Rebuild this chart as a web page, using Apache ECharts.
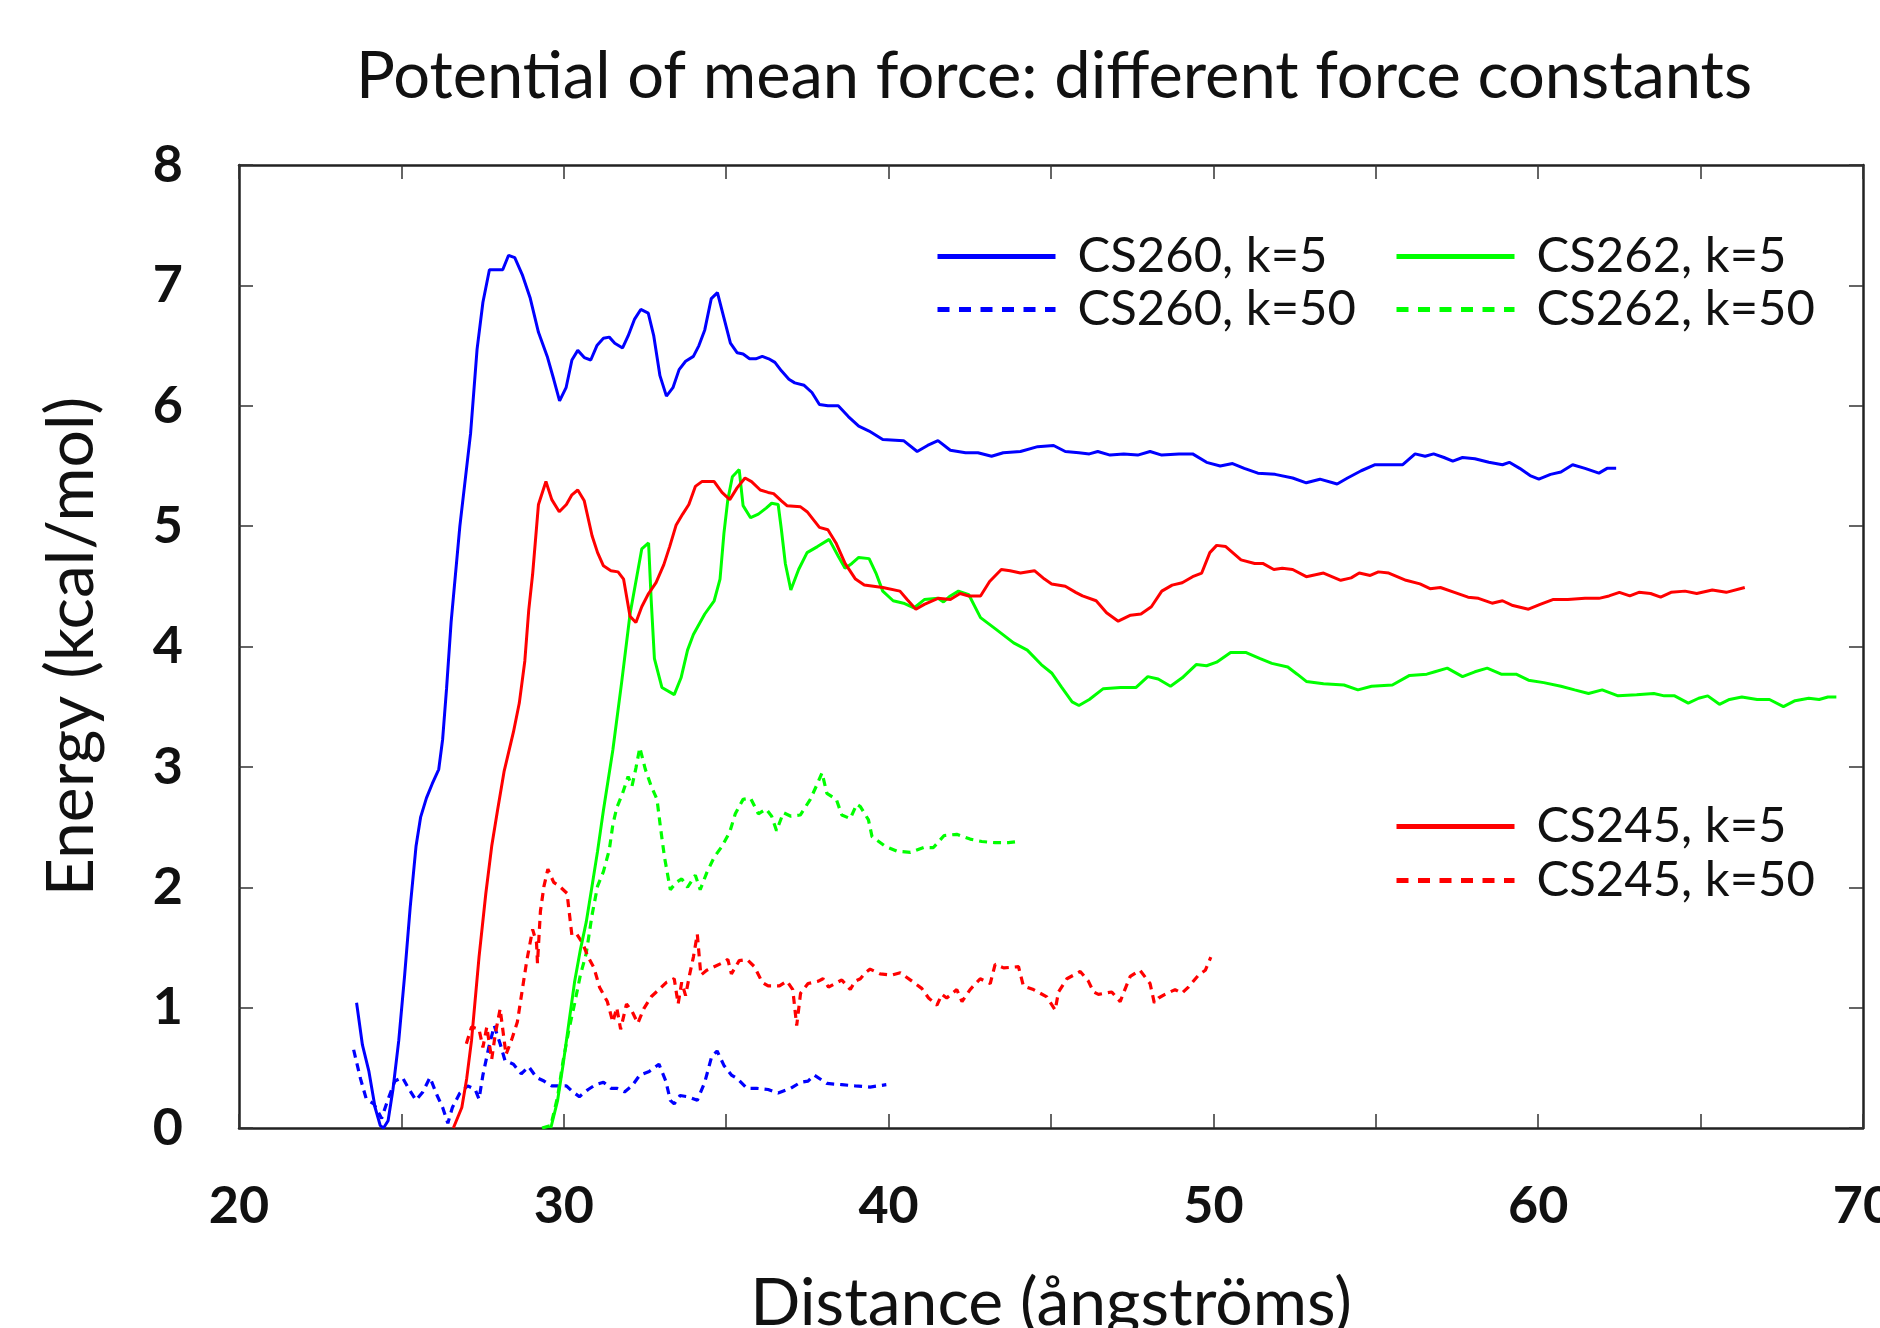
<!DOCTYPE html>
<html>
<head>
<meta charset="utf-8">
<script src="https://cdn.jsdelivr.net/npm/echarts@6/dist/echarts.min.js"></script>
<style>
html,body{margin:0;padding:0;background:#fff;}
#chart{width:1880px;height:1328px;}
</style>
</head>
<body>
<div id="chart"></div>
<script>
const titleText = 'Potential of mean force: different force constants';
const xName = 'Distance (ångströms)';
const yName = 'Energy (kcal/mol)';
const seriesNames = ['CS260, k=5','CS260, k=50','CS262, k=5','CS262, k=50','CS245, k=5','CS245, k=50'];
const xTicks = [20,30,40,50,60,70];
const yTicks = [0,1,2,3,4,5,6,7,8];

const cs260k5 = [[23.62,1.04],[23.80,0.69],[24.0,0.47],[24.19,0.17],[24.35,0.02],[24.45,0.0],[24.59,0.06],[24.74,0.32],[24.92,0.73],[25.1,1.27],[25.27,1.83],[25.45,2.34],[25.59,2.58],[25.77,2.74],[25.95,2.86],[26.15,2.98],[26.27,3.23],[26.39,3.65],[26.53,4.2],[26.8,5.0],[27.13,5.77],[27.33,6.47],[27.51,6.86],[27.71,7.13],[28.12,7.13],[28.3,7.25],[28.49,7.23],[28.72,7.09],[28.96,6.9],[29.22,6.61],[29.49,6.41],[29.69,6.22],[29.87,6.04],[30.07,6.15],[30.25,6.38],[30.43,6.46],[30.63,6.40],[30.83,6.38],[31.02,6.5],[31.22,6.56],[31.4,6.57],[31.57,6.52],[31.81,6.48],[31.98,6.58],[32.18,6.72],[32.37,6.8],[32.6,6.77],[32.77,6.58],[32.96,6.25],[33.16,6.08],[33.36,6.15],[33.55,6.3],[33.75,6.37],[33.99,6.41],[34.16,6.5],[34.34,6.63],[34.54,6.89],[34.73,6.94],[34.93,6.73],[35.13,6.52],[35.34,6.44],[35.52,6.43],[35.72,6.39],[35.91,6.39],[36.11,6.41],[36.31,6.39],[36.5,6.36],[36.7,6.29],[36.93,6.22],[37.11,6.19],[37.4,6.17],[37.64,6.11],[37.87,6.01],[38.13,6.0],[38.45,6.0],[38.76,5.91],[39.08,5.83],[39.4,5.79],[39.82,5.72],[40.46,5.71],[40.88,5.62],[41.2,5.67],[41.52,5.71],[41.9,5.63],[42.37,5.61],[42.75,5.61],[43.17,5.58],[43.53,5.61],[44.06,5.62],[44.59,5.66],[45.08,5.67],[45.44,5.62],[45.86,5.61],[46.18,5.6],[46.44,5.62],[46.82,5.59],[47.24,5.6],[47.67,5.59],[48.05,5.62],[48.41,5.59],[48.94,5.6],[49.36,5.6],[49.79,5.53],[50.21,5.5],[50.59,5.52],[50.95,5.48],[51.37,5.44],[51.9,5.43],[52.44,5.40],[52.86,5.36],[53.28,5.39],[53.81,5.35],[54.13,5.40],[54.55,5.46],[54.98,5.51],[55.83,5.51],[56.21,5.60],[56.52,5.58],[56.78,5.60],[57.1,5.57],[57.37,5.54],[57.67,5.57],[58.05,5.56],[58.48,5.53],[58.9,5.51],[59.11,5.53],[59.43,5.48],[59.75,5.42],[60.02,5.39],[60.38,5.43],[60.7,5.45],[61.06,5.51],[61.44,5.48],[61.87,5.44],[62.12,5.48],[62.4,5.48]];

const cs260k50 = [[23.53,0.65],[23.74,0.41],[23.92,0.24],[24.15,0.2],[24.39,0.08],[24.59,0.24],[24.8,0.39],[25.03,0.42],[25.24,0.32],[25.45,0.23],[25.66,0.30],[25.88,0.42],[26.1,0.27],[26.27,0.17],[26.43,0.04],[26.57,0.17],[26.8,0.29],[27.04,0.35],[27.27,0.32],[27.39,0.24],[27.51,0.44],[27.69,0.67],[27.86,0.85],[28.04,0.70],[28.19,0.56],[28.45,0.53],[28.69,0.45],[28.92,0.51],[29.16,0.42],[29.39,0.39],[29.63,0.35],[29.86,0.35],[30.08,0.35],[30.28,0.30],[30.48,0.26],[30.75,0.32],[30.98,0.36],[31.22,0.38],[31.45,0.33],[31.63,0.33],[31.87,0.30],[32.1,0.35],[32.34,0.44],[32.63,0.47],[32.93,0.53],[33.14,0.39],[33.28,0.23],[33.4,0.20],[33.58,0.27],[33.81,0.26],[34.11,0.23],[34.34,0.38],[34.55,0.59],[34.72,0.64],[34.93,0.52],[35.16,0.44],[35.34,0.41],[35.64,0.33],[35.93,0.33],[36.29,0.32],[36.6,0.29],[36.99,0.33],[37.29,0.38],[37.52,0.39],[37.71,0.44],[38.1,0.37],[38.56,0.36],[38.97,0.35],[39.43,0.34],[39.93,0.36]];

const cs262k5 = [[29.6,0.0],[29.81,0.23],[29.98,0.53],[30.16,0.88],[30.33,1.21],[30.51,1.48],[30.69,1.71],[30.87,2.01],[31.04,2.3],[31.22,2.64],[31.51,3.14],[31.78,3.7],[32.04,4.27],[32.4,4.81],[32.61,4.86],[32.69,4.39],[32.79,3.9],[33.02,3.66],[33.4,3.60],[33.61,3.74],[33.81,3.97],[33.99,4.1],[34.34,4.27],[34.63,4.38],[34.81,4.56],[34.93,4.94],[35.05,5.22],[35.19,5.41],[35.4,5.47],[35.52,5.17],[35.75,5.07],[35.99,5.10],[36.23,5.15],[36.4,5.19],[36.6,5.18],[36.7,4.97],[36.82,4.69],[36.99,4.47],[37.23,4.64],[37.49,4.78],[37.81,4.83],[38.17,4.89],[38.45,4.75],[38.66,4.65],[38.87,4.69],[39.08,4.74],[39.4,4.73],[39.61,4.61],[39.82,4.46],[40.14,4.38],[40.46,4.36],[40.78,4.32],[41.1,4.39],[41.52,4.40],[41.69,4.37],[41.9,4.42],[42.15,4.46],[42.47,4.43],[42.83,4.24],[43.32,4.14],[43.85,4.03],[44.27,3.97],[44.7,3.85],[45.02,3.78],[45.33,3.66],[45.65,3.54],[45.86,3.51],[46.18,3.56],[46.61,3.65],[47.14,3.66],[47.62,3.66],[47.98,3.75],[48.3,3.73],[48.68,3.67],[49.04,3.74],[49.47,3.85],[49.79,3.84],[50.1,3.87],[50.53,3.95],[51.01,3.95],[51.44,3.90],[51.8,3.86],[52.29,3.83],[52.58,3.77],[52.86,3.71],[53.39,3.69],[54.02,3.68],[54.45,3.64],[54.87,3.67],[55.51,3.68],[56.04,3.76],[56.57,3.77],[56.82,3.79],[57.2,3.82],[57.67,3.75],[58.05,3.79],[58.43,3.82],[58.86,3.77],[59.32,3.77],[59.7,3.72],[60.17,3.70],[60.7,3.67],[61.12,3.64],[61.55,3.61],[61.97,3.64],[62.46,3.59],[63.03,3.60],[63.56,3.61],[63.88,3.59],[64.2,3.59],[64.62,3.53],[64.94,3.57],[65.22,3.59],[65.58,3.52],[65.89,3.56],[66.27,3.58],[66.74,3.56],[67.12,3.56],[67.55,3.50],[67.91,3.55],[68.33,3.57],[68.65,3.56],[68.92,3.58],[69.18,3.58]];

const cs262k50 = [[29.33,0.0],[29.6,0.02],[29.81,0.26],[29.98,0.56],[30.16,0.82],[30.33,1.03],[30.51,1.27],[30.69,1.45],[30.87,1.77],[31.04,2.01],[31.22,2.13],[31.4,2.31],[31.51,2.52],[31.63,2.66],[31.81,2.78],[31.98,2.92],[32.1,2.84],[32.22,2.99],[32.34,3.16],[32.51,2.98],[32.69,2.84],[32.87,2.73],[32.98,2.49],[33.1,2.25],[33.28,1.98],[33.46,2.04],[33.63,2.07],[33.81,2.0],[34.05,2.10],[34.2,1.98],[34.4,2.12],[34.63,2.25],[34.87,2.34],[35.11,2.46],[35.28,2.61],[35.52,2.73],[35.75,2.74],[35.99,2.61],[36.23,2.65],[36.4,2.59],[36.55,2.47],[36.76,2.62],[36.99,2.59],[37.28,2.60],[37.59,2.73],[37.79,2.85],[37.95,2.95],[38.1,2.78],[38.39,2.73],[38.56,2.60],[38.82,2.57],[39.02,2.69],[39.13,2.67],[39.38,2.56],[39.49,2.42],[39.9,2.34],[40.26,2.30],[40.67,2.29],[41.08,2.33],[41.38,2.33],[41.71,2.43],[42.1,2.44],[42.51,2.40],[42.87,2.38],[43.28,2.37],[43.69,2.37],[44.0,2.38]];

const cs245k5 = [[26.6,0.0],[26.86,0.17],[27.01,0.41],[27.16,0.73],[27.39,1.42],[27.6,1.95],[27.78,2.34],[27.96,2.64],[28.16,2.96],[28.45,3.29],[28.63,3.53],[28.8,3.88],[28.92,4.30],[29.04,4.6],[29.22,5.18],[29.45,5.37],[29.63,5.22],[29.86,5.12],[30.08,5.18],[30.25,5.26],[30.43,5.30],[30.63,5.21],[30.87,4.92],[31.04,4.78],[31.22,4.67],[31.45,4.63],[31.67,4.62],[31.84,4.56],[32.04,4.25],[32.22,4.20],[32.4,4.33],[32.61,4.44],[32.84,4.53],[33.08,4.68],[33.26,4.83],[33.46,5.01],[33.66,5.10],[33.85,5.18],[34.05,5.33],[34.25,5.37],[34.63,5.37],[34.87,5.28],[35.11,5.22],[35.34,5.32],[35.58,5.40],[35.78,5.37],[36.05,5.30],[36.29,5.28],[36.46,5.27],[36.7,5.21],[36.87,5.17],[37.29,5.16],[37.49,5.12],[37.87,4.99],[38.13,4.97],[38.38,4.86],[38.66,4.69],[38.98,4.56],[39.25,4.51],[39.82,4.49],[40.35,4.46],[40.57,4.39],[40.84,4.31],[41.1,4.35],[41.52,4.40],[41.9,4.39],[42.2,4.44],[42.47,4.42],[42.83,4.42],[43.11,4.54],[43.47,4.64],[43.74,4.63],[44.06,4.61],[44.49,4.63],[44.8,4.56],[45.02,4.52],[45.44,4.50],[45.76,4.45],[45.97,4.42],[46.39,4.38],[46.71,4.28],[47.07,4.21],[47.45,4.26],[47.77,4.27],[48.09,4.33],[48.41,4.46],[48.73,4.51],[49.04,4.53],[49.36,4.58],[49.64,4.61],[49.89,4.78],[50.1,4.84],[50.38,4.83],[50.85,4.72],[51.27,4.69],[51.52,4.69],[51.86,4.64],[52.12,4.65],[52.44,4.64],[52.86,4.58],[53.39,4.61],[53.92,4.55],[54.24,4.57],[54.49,4.61],[54.83,4.59],[55.08,4.62],[55.4,4.61],[55.93,4.55],[56.36,4.52],[56.67,4.48],[56.99,4.49],[57.42,4.45],[57.84,4.41],[58.16,4.40],[58.58,4.36],[58.9,4.38],[59.22,4.34],[59.7,4.31],[60.06,4.35],[60.45,4.39],[60.91,4.39],[61.44,4.40],[61.87,4.40],[62.18,4.42],[62.5,4.45],[62.82,4.42],[63.1,4.45],[63.46,4.44],[63.77,4.41],[64.09,4.45],[64.52,4.46],[64.88,4.44],[65.36,4.47],[65.79,4.45],[66.36,4.49]];

const cs245k50 = [[27.0,0.7],[27.16,0.84],[27.39,0.82],[27.51,0.67],[27.63,0.84],[27.78,0.57],[27.89,0.78],[28.04,0.99],[28.22,0.61],[28.39,0.73],[28.57,0.88],[28.74,1.18],[28.86,1.39],[29.04,1.65],[29.16,1.54],[29.19,1.37],[29.28,1.80],[29.39,2.01],[29.51,2.15],[29.69,2.04],[29.86,2.01],[30.1,1.95],[30.25,1.60],[30.4,1.61],[30.57,1.54],[30.75,1.42],[30.93,1.33],[31.1,1.17],[31.34,1.05],[31.51,0.88],[31.63,1.0],[31.75,0.82],[31.93,1.03],[32.1,0.97],[32.28,0.87],[32.46,0.99],[32.69,1.09],[32.93,1.15],[33.16,1.21],[33.4,1.24],[33.52,1.03],[33.63,1.21],[33.75,1.10],[33.87,1.27],[33.99,1.42],[34.11,1.61],[34.22,1.27],[34.4,1.31],[34.63,1.34],[34.87,1.37],[35.05,1.40],[35.16,1.28],[35.4,1.39],[35.64,1.40],[35.87,1.34],[36.11,1.21],[36.29,1.18],[36.46,1.18],[36.64,1.18],[36.87,1.22],[37.05,1.15],[37.17,0.85],[37.29,1.12],[37.52,1.20],[37.84,1.22],[37.98,1.24],[38.15,1.17],[38.56,1.23],[38.82,1.15],[38.97,1.22],[39.13,1.24],[39.28,1.29],[39.43,1.32],[39.74,1.28],[40.1,1.27],[40.36,1.29],[40.72,1.22],[41.02,1.16],[41.23,1.08],[41.49,1.02],[41.64,1.11],[41.79,1.08],[42.1,1.15],[42.26,1.05],[42.51,1.15],[42.82,1.24],[43.13,1.20],[43.28,1.36],[43.54,1.33],[44.0,1.34],[44.15,1.18],[44.46,1.15],[44.87,1.09],[45.13,0.98],[45.23,1.13],[45.49,1.24],[45.9,1.30],[46.15,1.22],[46.31,1.13],[46.46,1.11],[46.87,1.13],[47.13,1.05],[47.23,1.12],[47.44,1.26],[47.74,1.31],[48.05,1.20],[48.18,1.04],[48.31,1.08],[48.51,1.11],[48.82,1.15],[49.03,1.12],[49.23,1.17],[49.54,1.27],[49.75,1.31],[49.92,1.42]];

const seriesData = [cs260k5, cs260k50, cs262k5, cs262k50, cs245k5, cs245k50];
const seriesColors = ['#0000ff','#0000ff','#00ff00','#00ff00','#ff0000','#ff0000'];
const seriesDashed = [false,true,false,true,false,true];

const FONT = 'Lato';
const chart = echarts.init(document.getElementById('chart'), null, {renderer:'canvas'});

const axisCommon = {
  type:'value',
  axisLine:{show:true, onZero:false, lineStyle:{color:'#222', width:2.5}},
  axisTick:{show:true, inside:true, length:14, lineStyle:{color:'#333', width:1.5}},
  splitLine:{show:false}
};

function legendItem(i){
  return {
    name: seriesNames[i],
    lineStyle: {width:5, type: seriesDashed[i] ? [12,9.5] : 'solid', color: seriesColors[i]}
  };
}

const legendCommon = {
  orient:'vertical', padding:0, itemGap:4, itemWidth:118, itemHeight:14,
  itemStyle:{opacity:0, color:'rgba(0,0,0,0)', borderWidth:0},
  lineStyle:{width:5},
  textStyle:{fontFamily:FONT, fontSize:49, color:'#111', lineHeight:49, padding:[0,0,0,17]},
  selectedMode:false
};

const option = {
  backgroundColor:'#fff',
  animation:false,
  title:{
    text:titleText, left:1049, top:40, textAlign:'center',
    textStyle:{fontFamily:FONT, fontSize:65, fontWeight:'normal', color:'#111'}
  },
  legend:[
    Object.assign({}, legendCommon, {left:935, top:232, data:[legendItem(0), legendItem(1)]}),
    Object.assign({}, legendCommon, {left:1394, top:232, data:[legendItem(2), legendItem(3)]}),
    Object.assign({}, legendCommon, {left:1394, top:802, itemGap:5, data:[legendItem(4), legendItem(5)]})
  ],
  grid:{left:239, right:17, top:165, bottom:200, containLabel:false, outerBoundsMode:'none'},
  xAxis:[
    Object.assign({}, axisCommon, {
      min:xTicks[0], max:xTicks[xTicks.length-1], interval:5, position:'bottom',
      name:xName, nameLocation:'middle', nameGap:143,
      nameTextStyle:{fontFamily:FONT, fontSize:66, color:'#111'},
      axisLabel:{show:true, margin:52, fontFamily:FONT, fontSize:52, fontWeight:'bold', color:'#111',
        formatter:v => xTicks.indexOf(v) >= 0 ? String(v) : ''}
    }),
    Object.assign({}, axisCommon, {
      min:xTicks[0], max:xTicks[xTicks.length-1], interval:5, position:'top',
      axisLabel:{show:false}
    })
  ],
  yAxis:[
    Object.assign({}, axisCommon, {
      min:yTicks[0], max:yTicks[yTicks.length-1], interval:1, position:'left',
      name:yName, nameLocation:'middle', nameGap:134,
      nameTextStyle:{fontFamily:FONT, fontSize:66, color:'#111'},
      axisLabel:{show:true, margin:56, fontFamily:FONT, fontSize:52, fontWeight:'bold', color:'#111'}
    }),
    Object.assign({}, axisCommon, {
      min:yTicks[0], max:yTicks[yTicks.length-1], interval:1, position:'right',
      axisLabel:{show:false}
    })
  ],
  series: seriesNames.map((name, i) => ({
    name:name, type:'line', xAxisIndex:0, yAxisIndex:0,
    data:seriesData[i], symbol:'none', showSymbol:false, smooth:false,
    z: seriesDashed[i] ? 2 : 3,
    itemStyle:{color:seriesColors[i]},
    lineStyle:{color:seriesColors[i], width: seriesDashed[i] ? 3.2 : 3, type: seriesDashed[i] ? [8,6] : 'solid'}
  }))
};
chart.setOption(option);
</script>
</body>
</html>
